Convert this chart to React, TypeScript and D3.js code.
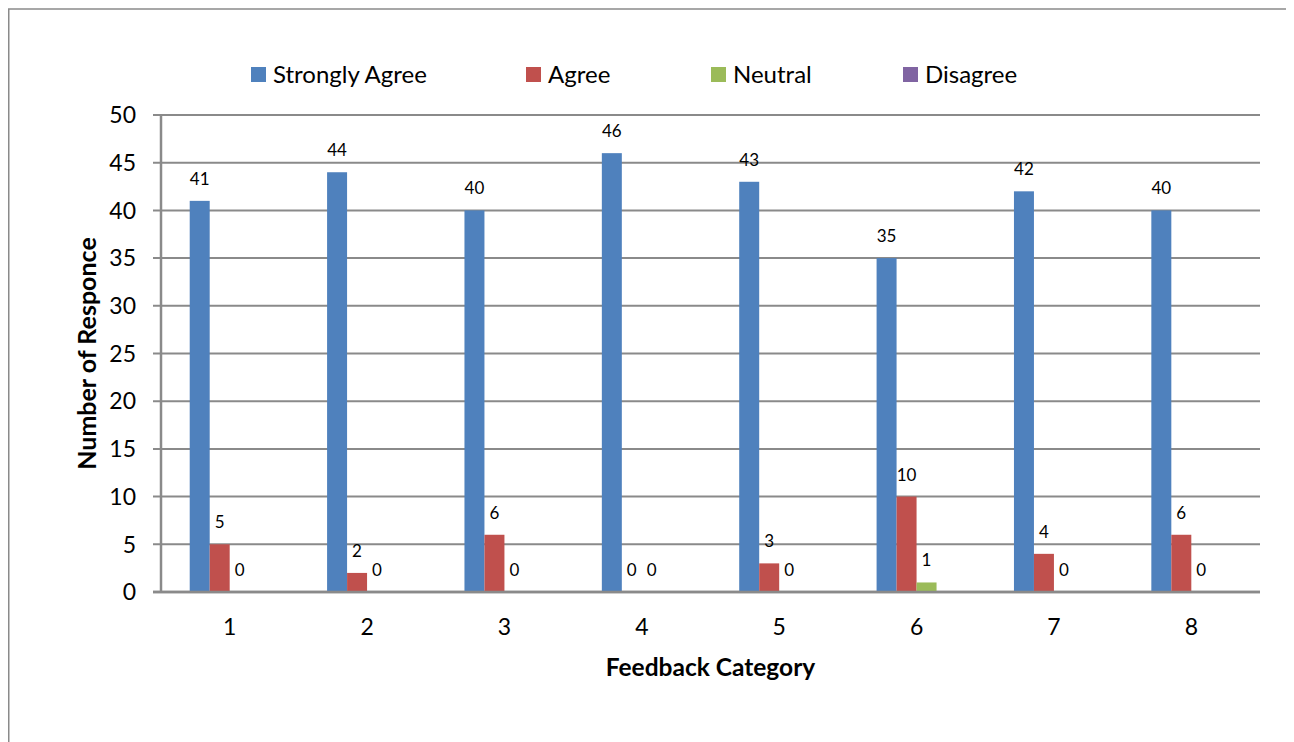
import React from 'react';
import * as d3 from 'd3';

const categories = ['1', '2', '3', '4', '5', '6', '7', '8'];
const seriesNames = ['Strongly Agree', 'Agree', 'Neutral', 'Disagree'];
const stronglyAgree = [41, 44, 40, 46, 43, 35, 42, 40];
const agree = [5, 2, 6, 0, 3, 10, 4, 6];
const neutral = [0, 0, 0, 0, 0, 1, 0, 0];
const disagree: (number | null)[] = [null, null, null, null, null, null, null, null];
const yTicks = [0, 5, 10, 15, 20, 25, 30, 35, 40, 45, 50];

const colors = ['#4F81BD', '#C0504D', '#9BBB59', '#8064A2'];
const seriesValues = [stronglyAgree, agree, neutral, disagree];

// layout (svg coords, svg sits at 8,8 in the page)
const W = 1286;
const H = 734;
const plot = { left: 153, right: 1252, top: 107, bottom: 584 };
const legendX = [243, 518, 703, 895];
const FONT = 'Lato, "Liberation Sans", sans-serif';
const GRID = '#8a8a8a';

export default function App() {
  const x0 = d3.scaleBand<string>()
    .domain(categories)
    .range([plot.left, plot.right])
    .paddingInner(0.418)
    .paddingOuter(0.209);

  const x1 = d3.scaleBand<string>()
    .domain(seriesNames)
    .range([0, x0.bandwidth()]);

  const y = d3.scaleLinear().domain([0, 50]).range([plot.bottom, plot.top]);

  return (
    <svg width={W} height={H} style={{ display: 'block', fontFamily: FONT }}>
      <rect x={0.75} y={1} width={1279.5} height={800} fill="#fff" stroke={GRID} strokeWidth={1.5} />

      {/* legend */}
      {seriesNames.map((name, i) => (
        <g key={name} transform={`translate(${legendX[i]},0)`}>
          <rect x={0} y={59} width={15} height={15} fill={colors[i]} />
          <text x={22} y={75} fontSize={24} fill="#000">{name}</text>
        </g>
      ))}

      {/* gridlines + y ticks */}
      {yTicks.map(t => (
        <g key={t}>
          <line x1={plot.left - 8} x2={plot.right} y1={y(t)} y2={y(t)} stroke={GRID} strokeWidth={t === 0 ? 2.5 : 2} />
          <text x={128} y={y(t)} dy="0.36em" textAnchor="end" fontSize={23} fill="#000">{t}</text>
        </g>
      ))}
      <line x1={plot.left} x2={plot.left} y1={plot.top} y2={plot.bottom} stroke={GRID} strokeWidth={2.5} />

      {/* bars */}
      {categories.map((c, ci) => (
        <g key={c} transform={`translate(${x0(c)},0)`}>
          {seriesNames.map((s, si) => {
            const v = seriesValues[si][ci];
            if (v == null) return null;
            const bx = x1(s) as number;
            return (
              <g key={s}>
                {v > 0 && (
                  <rect x={bx} y={y(v)} width={x1.bandwidth()} height={y(0) - y(v)} fill={colors[si]} />
                )}
                <text x={bx + x1.bandwidth() / 2} y={y(v) - 16} textAnchor="middle" fontSize={17} fill="#000">{v}</text>
              </g>
            );
          })}
          <text x={x0.bandwidth() / 2} y={627} textAnchor="middle" fontSize={23} fill="#000">{c}</text>
        </g>
      ))}
      <line x1={plot.left - 8} x2={plot.right} y1={plot.bottom} y2={plot.bottom} stroke={GRID} strokeWidth={2.5} />

      {/* axis titles */}
      <text x={(plot.left + plot.right) / 2} y={668} textAnchor="middle" fontSize={24.5} fontWeight="bold" fill="#000">Feedback Category</text>
      <text transform={`translate(88,${(plot.top + plot.bottom) / 2}) rotate(-90)`} textAnchor="middle" fontSize={25} fontWeight="bold" fill="#000">Number of Responce</text>
    </svg>
  );
}
